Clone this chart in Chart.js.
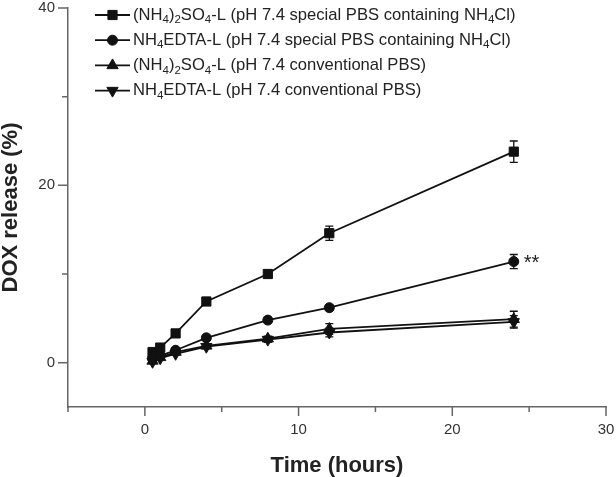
<!DOCTYPE html>
<html>
<head>
<meta charset="utf-8">
<script src="https://cdn.jsdelivr.net/npm/chart.js@4.4.0/dist/chart.umd.min.js"></script>
<style>
  body { margin: 0; background: #fff; }
  #wrap { width: 616px; height: 477px; }
</style>
</head>
<body>
<div id="wrap"><canvas id="releaseChart" width="616" height="477"></canvas></div>
<script>
// data (hours vs % DOX released)
const times = [0.5, 1, 2, 4, 8, 12, 24];

const sulfateSpecial = [1.2, 1.7, 3.3, 6.9, 10.0, 14.6, 23.8];
const sulfateSpecialErr = [0.1, 0.2, 0.3, 0.3, 0.4, 0.8, 1.2];

const edtaSpecial = [0.5, 0.8, 1.4, 2.8, 4.8, 6.2, 11.4];
const edtaSpecialErr = [0.1, 0.1, 0.2, 0.2, 0.3, 0.3, 0.8];

const sulfateConv = [0.2, 0.6, 1.2, 1.9, 2.7, 3.8, 4.9];
const sulfateConvErr = [0.1, 0.1, 0.1, 0.2, 0.3, 0.6, 0.9];

const edtaConv = [0.1, 0.5, 1.0, 1.8, 2.6, 3.4, 4.6];
const edtaConvErr = [0.1, 0.1, 0.1, 0.2, 0.3, 0.5, 0.7];

// "_4" marks a subscript digit
const seriesLabels = [
  '(NH_4)_2SO_4-L (pH 7.4 special PBS containing NH_4Cl)',
  'NH_4EDTA-L (pH 7.4 special PBS containing NH_4Cl)',
  '(NH_4)_2SO_4-L (pH 7.4 conventional PBS)',
  'NH_4EDTA-L (pH 7.4 conventional PBS)'
];
const pointStyles = ['rect', 'circle', 'triangle', 'triangle'];
const pointRotations = [0, 0, 0, 180];
const pointSizes = [6.5, 5, 6.5, 6.5];

const xTicks = [-5, 0, 5, 10, 15, 20, 25, 30];
const yTicks = [0, 10, 20, 30, 40];

const FONT = '"Liberation Sans", Arial, Helvetica, sans-serif';

const allValues = [sulfateSpecial, edtaSpecial, sulfateConv, edtaConv];
const allErrors = [sulfateSpecialErr, edtaSpecialErr, sulfateConvErr, edtaConvErr];

function toPoints(values) {
  return times.map((t, i) => ({ x: t, y: values[i] }));
}

const datasets = allValues.map((vals, i) => ({
  label: seriesLabels[i],
  data: toPoints(vals),
  borderColor: '#111',
  backgroundColor: '#111',
  borderWidth: 1.8,
  pointStyle: pointStyles[i],
  pointRotation: pointRotations[i],
  pointRadius: pointSizes[i],
  pointBorderWidth: 1,
  pointBackgroundColor: '#111',
  pointBorderColor: '#111',
  tension: 0
}));

// error bars, tick marks, legend with subscripts and the ** mark
const extrasPlugin = {
  id: 'extras',
  afterDatasetsDraw(chart) {
    const ctx = chart.ctx;
    const yScale = chart.scales.y;
    ctx.save();
    ctx.strokeStyle = '#111';
    ctx.lineWidth = 1.3;
    allErrors.forEach((errs, i) => {
      const meta = chart.getDatasetMeta(i);
      meta.data.forEach((pt, j) => {
        const v = allValues[i][j];
        const top = yScale.getPixelForValue(v + errs[j]);
        const bot = yScale.getPixelForValue(v - errs[j]);
        ctx.beginPath();
        ctx.moveTo(pt.x, top); ctx.lineTo(pt.x, bot);
        ctx.moveTo(pt.x - 4, top); ctx.lineTo(pt.x + 4, top);
        ctx.moveTo(pt.x - 4, bot); ctx.lineTo(pt.x + 4, bot);
        ctx.stroke();
      });
    });
    // significance mark next to the last circle
    const last = chart.getDatasetMeta(1).data[times.length - 1];
    ctx.fillStyle = '#222';
    ctx.font = '20px ' + FONT;
    ctx.textBaseline = 'middle';
    ctx.textAlign = 'left';
    ctx.fillText('**', last.x + 10, last.y + 2);
    ctx.restore();
  },
  afterDraw(chart) {
    const ctx = chart.ctx;
    const xs = chart.scales.x, ys = chart.scales.y;
    ctx.save();
    ctx.strokeStyle = '#666';
    ctx.lineWidth = 1.5;
    ctx.beginPath();
    xTicks.forEach(v => {
      const px = xs.getPixelForValue(v);
      const len = v % 10 === 0 ? 9 : 5;
      ctx.moveTo(px, xs.top); ctx.lineTo(px, xs.top + len);
    });
    yTicks.forEach(v => {
      const py = ys.getPixelForValue(v);
      const len = v % 20 === 0 ? 10 : 6;
      ctx.moveTo(ys.right, py); ctx.lineTo(ys.right - len, py);
    });
    ctx.stroke();

    // legend
    chart.data.datasets.forEach((ds, i) => {
      const y = 15 + i * 25.2;
      ctx.strokeStyle = '#111';
      ctx.fillStyle = '#111';
      ctx.lineWidth = 1.8;
      ctx.beginPath();
      ctx.moveTo(95, y); ctx.lineTo(130, y);
      ctx.stroke();
      ctx.lineWidth = 1;
      Chart.helpers.drawPoint(ctx, {
        pointStyle: pointStyles[i], rotation: pointRotations[i],
        radius: pointSizes[i], borderWidth: 1
      }, 112.5, y);
      drawSubText(ctx, ds.label, 133, y);
    });
    ctx.restore();
  }
};

function drawSubText(ctx, text, x, y) {
  const parts = text.split(/_(\d)/);
  ctx.fillStyle = '#222';
  ctx.textAlign = 'left';
  ctx.textBaseline = 'middle';
  parts.forEach((p, k) => {
    if (k % 2 === 1) {
      ctx.font = '11.5px ' + FONT;
      ctx.fillText(p, x, y + 5);
    } else {
      ctx.font = '16.6px ' + FONT;
      ctx.fillText(p, x, y);
    }
    x += ctx.measureText(p).width;
  });
}

const ctx = document.getElementById('releaseChart').getContext('2d');
const chart = new Chart(ctx, {
  type: 'line',
  data: { datasets: datasets },
  options: {
    responsive: false,
    animation: false,
    layout: { padding: { top: 8, right: 10, left: 0, bottom: 0 } },
    plugins: { legend: { display: false }, tooltip: { enabled: false } },
    scales: {
      x: {
        type: 'linear',
        min: -5,
        max: 30,
        afterBuildTicks: s => { s.ticks = xTicks.map(v => ({ value: v })); },
        afterFit: s => { s.height = 70; s.paddingLeft = 0; s.paddingRight = 0; },
        grid: { display: false, drawTicks: false },
        border: { display: true, color: '#666', width: 1.5 },
        ticks: {
          padding: 14,
          color: '#333',
          font: { family: FONT, size: 15 },
          maxRotation: 0,
          autoSkip: false,
          callback: v => (v % 10 === 0 ? v : '')
        },
        title: {
          display: true,
          text: 'Time (hours)',
          color: '#222',
          font: { family: FONT, size: 22, weight: 'bold', lineHeight: 1 },
          padding: { top: 0, bottom: 0 }
        }
      },
      y: {
        min: -5,
        max: 40,
        afterBuildTicks: s => { s.ticks = yTicks.map(v => ({ value: v })); },
        afterFit: s => { s.width = 68; s.paddingTop = 0; s.paddingBottom = 0; },
        grid: { display: false, drawTicks: false },
        border: { display: true, color: '#666', width: 1.5 },
        ticks: {
          padding: 13,
          color: '#333',
          font: { family: FONT, size: 15 },
          autoSkip: false,
          callback: v => (v % 20 === 0 ? v : '')
        },
        title: {
          display: true,
          text: 'DOX release (%)',
          color: '#222',
          font: { family: FONT, size: 22, weight: 'bold', lineHeight: 1 },
          padding: { top: 0, bottom: 0 }
        }
      }
    }
  },
  plugins: [extrasPlugin]
});
</script>
</body>
</html>
